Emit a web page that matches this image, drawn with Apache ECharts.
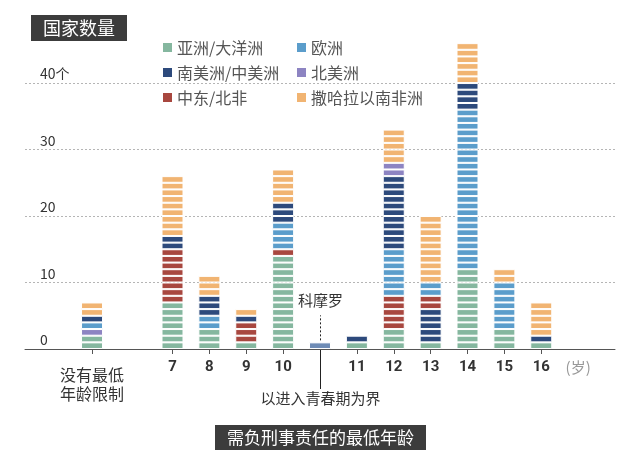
<!DOCTYPE html>
<html><head><meta charset="utf-8">
<script src="https://cdn.jsdelivr.net/npm/echarts@6/dist/echarts.min.js"></script>
<style>html,body{margin:0;padding:0;background:#fff}#c{width:641px;height:473px}</style>
</head><body><div id="c"></div>
<script>
// ---------- data ----------
const ages = ['7','8','9','10','11','12','13','14','15','16'];
const noneLabel = '没有最低\n年龄限制';
const comorosLabel = '科摩罗';
const unitLabel = '(岁)';
// number of countries per region, ages 7..16
const asiaOceania    = [7,3,1,14,1,3,1,12,3,1];
const latinAmericaLo = [0,0,0,0,0,0,5,0,0,0];   // stacked below middle east (age 13)
const middleEastNA   = [8,0,3,1,0,5,2,0,0,0];
const europe         = [0,2,0,4,0,7,2,24,7,0];
const latinAmerica   = [2,3,1,3,1,11,0,4,0,1];
const northAmerica   = [0,0,0,0,0,2,0,0,0,0];
const subSaharan     = [9,3,1,5,0,5,10,6,2,5];
// "no minimum age" bar, bottom to top: asia, north america, europe, latin america, sub-saharan
const noneValues = [2,1,1,1,2];
const comorosValue = 1;
const yTicks = [0,10,20,30,40];

// ---------- styles ----------
const CJK = "'Noto Sans CJK SC', sans-serif";
const REG = {
  asia:  {name:'亚洲/大洋洲', color:'#85b79f'},
  me:    {name:'中东/北非', color:'#a8473f'},
  eu:    {name:'欧洲', color:'#5b9dcb'},
  la:    {name:'南美洲/中美洲', color:'#2d4a7c'},
  na:    {name:'北美洲', color:'#8d84c2'},
  ssa:   {name:'撒哈拉以南非洲', color:'#f1b472'}
};

const mainCats = ['', '', '', ''].concat(ages.slice(0,4), [comorosLabel], ages.slice(4), [unitLabel, '']);
const toMain = vals => mainCats.map(c => { const i = ages.indexOf(c); return i >= 0 ? vals[i] : 0; });
const noneCats = Array.from({length:45}, (_, i) => i === 5 ? noneLabel : '');

function unitSeries(reg, counts, stack, xAxisIndex) {
  const max = Math.max(...counts);
  const out = [];
  for (let k = 0; k < max; k++) {
    out.push({
      type:'bar', name:reg.name, stack, xAxisIndex, yAxisIndex:0, barWidth:22, z:2,
      itemStyle:{color:reg.color, borderColor:'#fff', borderWidth:1},
      emphasis:{disabled:true}, silent:true,
      data: counts.map(v => v > k ? 1 : '-')
    });
  }
  return out;
}

let series = [];
series = series.concat(
  unitSeries(REG.asia, toMain(asiaOceania), 'main', 0),
  unitSeries(REG.la, toMain(latinAmericaLo), 'main', 0),
  unitSeries(REG.me, toMain(middleEastNA), 'main', 0),
  unitSeries(REG.eu, toMain(europe), 'main', 0),
  unitSeries(REG.la, toMain(latinAmerica), 'main', 0),
  unitSeries(REG.na, toMain(northAmerica), 'main', 0),
  unitSeries(REG.ssa, toMain(subSaharan), 'main', 0)
);
series.push({
  type:'bar', name:comorosLabel, stack:'main', xAxisIndex:0, barWidth:22, z:2, silent:true,
  itemStyle:{color:'#6f8cb6', borderColor:'#fff', borderWidth:1},
  data: mainCats.map(c => c === comorosLabel ? comorosValue : '-')
});
const noneOrder = [REG.asia, REG.na, REG.eu, REG.la, REG.ssa];
noneOrder.forEach((reg, j) => {
  series = series.concat(unitSeries(reg, noneCats.map(c => c === noneLabel ? noneValues[j] : 0), 'none', 1));
});
// dotted grid lines
series.push({
  type:'line', name:'grid', xAxisIndex:0, data:[], silent:true,
  markLine:{
    z:1, silent:true, symbol:['none','none'], label:{show:false},
    lineStyle:{type:[2,2], color:'#b5b5b5', width:1},
    data: yTicks.slice(1).map(v => ({yAxis:v}))
  }
});

const legendCommon = {
  orient:'vertical', itemWidth:9, itemHeight:9, itemGap:6, icon:'rect', selectedMode:false,
  itemStyle:{borderWidth:0},
  textStyle:{fontSize:16, color:'#555', fontFamily:CJK, lineHeight:19}
};

const option = {
  animation:false,
  backgroundColor:'#fff',
  title:[
    {text:'国家数量', left:31, top:15, backgroundColor:'#3c3c3c', padding:[4,12],
     textStyle:{color:'#fff', fontSize:18, fontWeight:'normal', fontFamily:CJK}},
    {text:'需负刑事责任的最低年龄', left:'center', top:425, backgroundColor:'#3c3c3c', padding:[4,12],
     textStyle:{color:'#fff', fontSize:17, fontWeight:'normal', fontFamily:CJK}}
  ],
  legend:[
    Object.assign({data:[REG.asia.name, REG.la.name, REG.me.name], left:158, top:33}, legendCommon),
    Object.assign({data:[REG.eu.name, REG.na.name, REG.ssa.name], left:292, top:33}, legendCommon)
  ],
  grid:{left:25, right:26, top:23.2, bottom:124, containLabel:false},
  xAxis:[
    {
      type:'category', data:mainCats, boundaryGap:false, position:'bottom',
      axisLine:{lineStyle:{color:'#555', width:1}},
      axisTick:{show:true, interval:(i, v) => ages.includes(v), length:5, lineStyle:{color:'#555'}},
      axisLabel:{
        interval:0, margin:11, fontFamily:'Roboto', fontWeight:'bold', fontSize:15, color:'#333',
        formatter: v => v === unitLabel ? '{u|' + v + '}' : (ages.includes(v) ? v : ''),
        rich:{u:{fontFamily:CJK, fontWeight:'normal', color:'#999', fontSize:15}}
      },
      splitLine:{show:false}
    },
    {
      type:'category', data:noneCats, boundaryGap:false, position:'bottom',
      axisLine:{show:false},
      axisTick:{show:true, interval:(i, v) => v === noneLabel, length:5, lineStyle:{color:'#555'}},
      axisLabel:{interval:0, margin:16, fontFamily:CJK, fontSize:16, lineHeight:19, color:'#333'},
      splitLine:{show:false}
    }
  ],
  yAxis:{
    type:'value', min:0, max:49, interval:10,
    axisLine:{show:false}, axisTick:{show:false}, splitLine:{show:false},
    axisLabel:{
      inside:true, margin:15, verticalAlign:'bottom', padding:[0,0,2,0], showMaxLabel:false,
      fontFamily:CJK, fontSize:14, color:'#333',
      formatter: v => yTicks.includes(v) ? (v === 40 ? v + '个' : String(v)) : ''
    }
  },
  series
};

const chart = echarts.init(document.getElementById('c'), null, {renderer:'canvas'});
chart.setOption(option);

// annotation for Comoros, positioned through the axes
const p0 = chart.convertToPixel({xAxisIndex:0, yAxisIndex:0}, [comorosLabel, 0]);
const pTop = chart.convertToPixel({xAxisIndex:0, yAxisIndex:0}, [comorosLabel, comorosValue]);
const cx = Math.round(p0[0]) + 0.5;
chart.setOption({
  graphic:[
    {type:'line', silent:true, shape:{x1:cx, y1:p0[1], x2:cx, y2:p0[1] + 40}, style:{stroke:'#222', lineWidth:1}},
    {type:'line', silent:true, shape:{x1:cx, y1:pTop[1] - 2, x2:cx, y2:pTop[1] - 27}, style:{stroke:'#222', lineWidth:1, lineDash:[2,2]}},
    {type:'text', silent:true, x:cx, y:pTop[1] - 42, style:{text:comorosLabel, fill:'#333', font:"15px 'Noto Sans CJK SC'", align:'center', verticalAlign:'middle'}},
    {type:'text', silent:true, x:cx, y:p0[1] + 49, style:{text:'以进入青春期为界', fill:'#333', font:"15px 'Noto Sans CJK SC'", align:'center', verticalAlign:'middle'}}
  ]
});
</script></body></html>
